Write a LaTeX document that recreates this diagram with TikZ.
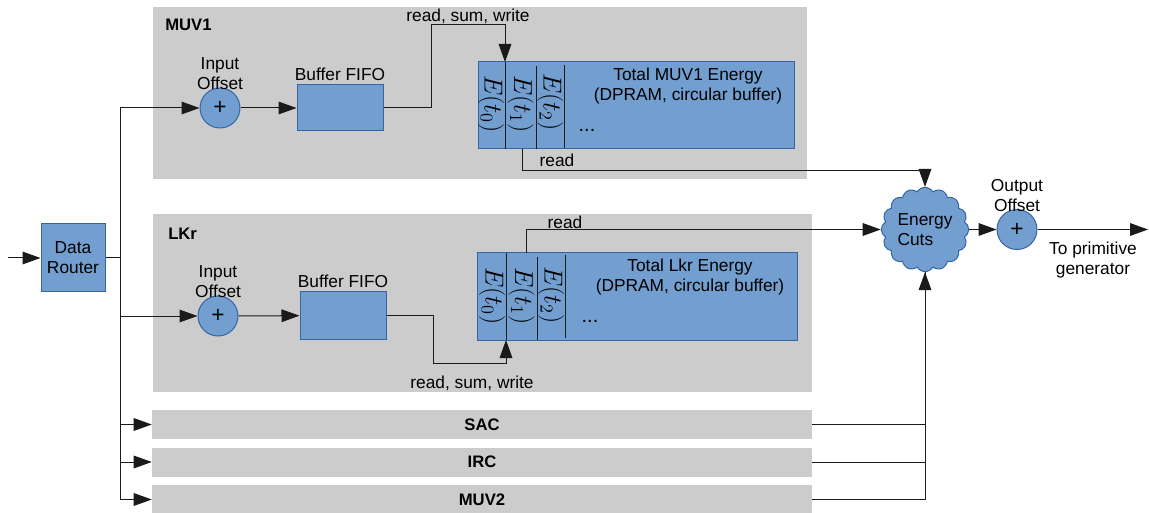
\documentclass[tikz,border=0pt]{standalone}
\usepackage{fix-cm}
\usepackage{fontspec}
\setmainfont{Liberation Sans}
\usetikzlibrary{arrows.meta,shapes.symbols}

\definecolor{boxblue}{HTML}{729FCF}
\definecolor{boxedge}{HTML}{3465A4}
\definecolor{panelgray}{HTML}{CCCCCC}
\definecolor{linegray}{HTML}{1A1A1A}

\begin{document}
\begin{tikzpicture}[x=0.75pt,y=0.75pt,yscale=-1,
	txt/.style={inner sep=0.75pt, font=\fontsize{13}{15}\selectfont, align=center},
	paneltitle/.style={inner sep=0.75pt, font=\fontsize{12.5}{15}\selectfont\bfseries},
	bluebox/.style={draw=boxedge, fill=boxblue, line width=0.75pt, inner sep=0pt},
	sumnode/.style={circle, bluebox, minimum size=30pt, font=\fontsize{17}{17}\selectfont},
	cell/.style={rotate=-90, inner sep=0pt, font=\fontsize{19.5}{19.5}\selectfont},
	bar/.style={fill=panelgray, inner sep=0pt, minimum width=495pt, minimum height=21.75pt, font=\fontsize{12.5}{14}\selectfont\bfseries},
	wire/.style={draw=linegray, line width=0.75pt},
	arr/.style={wire, -{Triangle[length=13.5pt,width=9.5pt]}}
	]
	\useasboundingbox (0,0) rectangle (1149,513);
	
	%Panels
	\fill [panelgray] (153,7) rectangle (807,179);
	\fill [panelgray] (153,214) rectangle (812,392);
	
	%Router and bus
	\node (router) at (73,258) [bluebox, txt, minimum width=48pt, minimum height=51pt] {Data\\Router};
	\coordinate (in) at (8,258);
	\coordinate (bus) at (120,258);
	\draw [arr] (in) -- (router);
	\draw [wire] (router) -- (bus);
	
	%MUV1
	\node (muv1) at (164,25) [paneltitle, anchor=west] {MUV1};
	\node (sum1) at (220,108) [sumnode] {+};
	\node (sum1lbl) at (220,74) [txt] {Input\\Offset};
	\node (fifo1) at (340,108) [bluebox, minimum width=64.5pt, minimum height=34.5pt] {};
	\node (fifo1lbl) at (340,74) [txt] {Buffer FIFO};
	\node (mem1) at (636,105.5) [bluebox, minimum width=237pt, minimum height=65.25pt] {};
	\node (e10) at (491,104) [cell] {$E(t_0)$};
	\node (e11) at (520.5,104) [cell] {$E(t_1)$};
	\node (e12) at (550,102) [cell] {$E(t_2)$};
	\draw [wire] (505,62) -- (505,149);
	\draw [wire] (536,66) -- (536,149);
	\draw [wire] (564,65) -- (564,148);
	\node (mem1lbl) at (688,86) [txt] {Total MUV1 Energy\\(DPRAM, circular buffer)};
	\node (mem1dots) at (587,130) [txt, font=\fontsize{15}{15}\selectfont] {...};
	\coordinate (w1) at (505,62);
	\coordinate (r1) at (522,149);
	\node (rsw1) at (468,16) [txt] {read, sum, write};
	\node (read1) at (557,160) [txt] {read};
	
	%LKr
	\node (lkr) at (167,234) [paneltitle, anchor=west] {LKr};
	\node (sum2) at (218,316) [sumnode] {+};
	\node (sum2lbl) at (218,282) [txt] {Input\\Offset};
	\node (fifo2) at (343,315.5) [bluebox, minimum width=64.5pt, minimum height=35.25pt] {};
	\node (fifo2lbl) at (343,281) [txt] {Buffer FIFO};
	\node (mem2) at (637,296.5) [bluebox, minimum width=240pt, minimum height=65.25pt] {};
	\node (e20) at (492,296) [cell] {$E(t_0)$};
	\node (e21) at (521.5,296) [cell] {$E(t_1)$};
	\node (e22) at (551,295) [cell] {$E(t_2)$};
	\draw [wire] (506,253) -- (506,340);
	\draw [wire] (537,257) -- (537,340);
	\draw [wire] (565,255) -- (565,338);
	\node (mem2lbl) at (690,277) [txt] {Total Lkr Energy\\(DPRAM, circular buffer)};
	\node (mem2dots) at (590,321) [txt, font=\fontsize{15}{15}\selectfont] {...};
	\coordinate (w2) at (506,340);
	\coordinate (r2) at (526,253);
	\node (rsw2) at (472,383) [txt] {read, sum, write};
	\node (read2) at (565,222) [txt] {read};
	
	%Energy cuts and output
	\node (cuts) at (925,229.5) [cloud, cloud puffs=16, cloud puff arc=120, aspect=1.05, bluebox, minimum width=57.75pt, minimum height=54pt, txt, align=left] {Energy\\Cuts};
	\node (sum3) at (1017,229.5) [sumnode] {+};
	\node (sum3lbl) at (1017,196) [txt] {Output\\Offset};
	\node (outlbl) at (1093,260) [txt] {To primitive\\generator};
	\coordinate (out) at (1148,229.5);
	
	%Detector bars
	\node (sac) at (482,424.5) [bar] {SAC};
	\node (irc) at (482,462) [bar] {IRC};
	\node (muv2) at (482,499.5) [bar] {MUV2};
	
	%Connectors
	\draw [arr] (bus) |- (sum1);
	\draw [arr] (bus) |- (sum2);
	\draw [arr] (bus) |- (sac);
	\draw [arr] (bus) |- (irc);
	\draw [arr] (bus) |- (muv2);
	\draw [arr] (sum1) -- (fifo1);
	\draw [arr] (sum2) -- (fifo2);
	\draw [arr] (fifo1.east) -| (431,25) -| (w1);
	\draw [arr] (fifo2.east) -| (433,363) -| (w2);
	\draw [arr] (r1) -- (522,171) -| (cuts.north);
	\draw [arr] (r2) |- (cuts.west);
	\draw [wire] (sac) -| (cuts.south);
	\draw [wire] (irc) -| (cuts.south);
	\draw [arr] (muv2) -| (cuts.south);
	\draw [arr] (cuts) -- (sum3);
	\draw [arr] (sum3) -- (out);
	
\end{tikzpicture}
\end{document}
